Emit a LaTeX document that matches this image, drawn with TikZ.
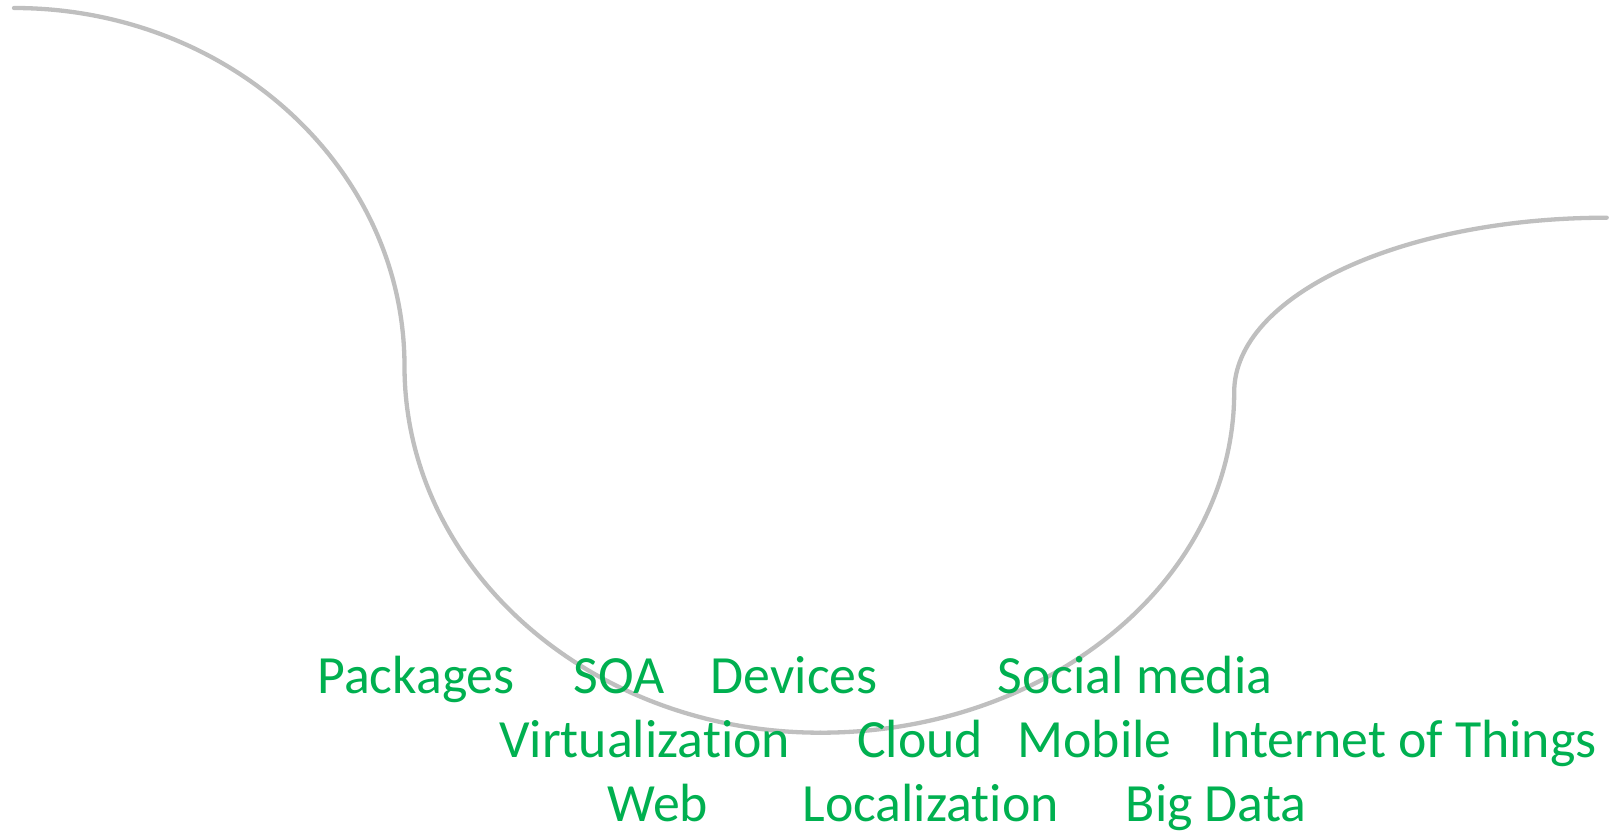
\documentclass[tikz,border=0pt]{standalone}
\usepackage{fontspec}
\setmainfont{Carlito}[Ligatures={NoCommon}]
\definecolor{curvegray}{HTML}{BFBFBF}
\definecolor{labelgreen}{HTML}{00B050}
\tikzset{
  wave/.style={draw=curvegray, line width=4.3pt, line cap=round},
  term/.style={anchor=base west, inner sep=0pt, text=labelgreen, font=\fontsize{53.8}{60}\selectfont}
}
\begin{document}
\begin{tikzpicture}[x=1pt,y=-1pt]
\useasboundingbox (0,0) rectangle (1618,832);
% curve points
\coordinate (p0) at (14,8);
\coordinate (p1) at (404.5,366.3);
\coordinate (p2) at (820.4,732.7);
\coordinate (p3) at (1234.2,392.1);
\coordinate (p4) at (1606.7,217.7);
\draw[wave] (p0) .. controls (229.7,8) and (404.5,168.4) .. (p1)
  .. controls (404.5,568.7) and (590.7,732.7) .. (p2);
\draw[wave] (p2) .. controls (1048.9,732.7) and (1234.2,580.2) .. (p3)
  .. controls (1234.2,295.8) and (1401,217.7) .. (p4);
% row 1
\node[term] (packages) at (317.3,693.3) {Packages};
\node[term] (soa) at (573.5,693.3) {SOA};
\node[term] (devices) at (710.6,693.3) {Devices};
\node[term] (social) at (997.5,693.3) {Social media};
% row 2
\node[term] (virt) at (499,757) {Virtualization};
\node[term] (cloud) at (857,757) {Cloud};
\node[term] (mobile) at (1017.2,757) {Mobile};
\node[term] (iot) at (1208.8,757) {Internet of Things};
% row 3
\node[term] (web) at (607,821.5) {Web};
\node[term] (local) at (802.3,821.5) {Localization};
\node[term] (bigdata) at (1125.6,821.5) {Big Data};
\end{tikzpicture}
\end{document}
